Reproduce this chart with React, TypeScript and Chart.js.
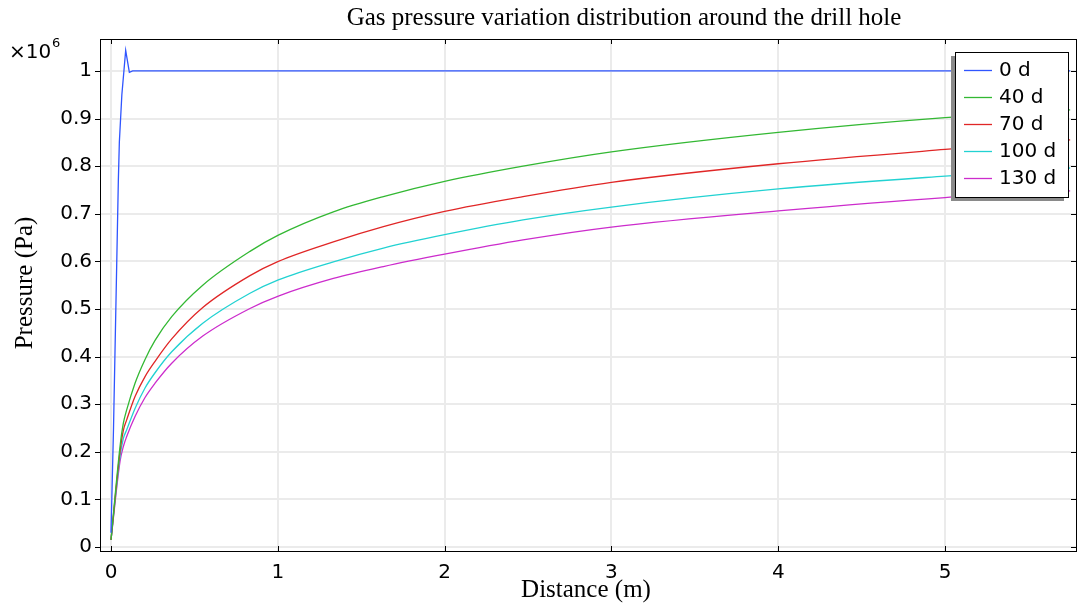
import React, { useEffect, useRef } from "react";
import { Chart, registerables } from "chart.js";
Chart.register(...registerables);

// Pressure values in units of 10^6 Pa
const title = "Gas pressure variation distribution around the drill hole";
const xTitle = "Distance (m)";
const yTitle = "Pressure (Pa)";
const seriesLabels = ["0 d", "40 d", "70 d", "100 d", "130 d"];
const seriesColors = ["#2f55ff", "#33b833", "#e02626", "#22d2d2", "#cc2ccc"];

const dist0 = [0, 0.015, 0.044, 0.05, 0.065, 0.088, 0.11, 0.13, 1, 2, 3, 4, 5, 5.75];
const p0 = [0.03, 0.25, 0.77, 0.85, 0.95, 1.043, 0.997, 1.0, 1.0, 1.0, 1.0, 1.0, 1.0, 1.0];

const distCurve = [0, 0.054, 0.074, 0.094, 0.144, 0.204, 0.264, 0.364, 0.55, 0.833, 1.003, 1.333, 1.633, 2.0, 2.47, 3.0, 4.0, 5.0, 5.75];
const p40 = [0.015, 0.211, 0.26, 0.288, 0.344, 0.394, 0.434, 0.484, 0.55, 0.621, 0.655, 0.704, 0.736, 0.768, 0.8, 0.83, 0.871, 0.902, 0.918];
const p70 = [0.015, 0.2, 0.245, 0.267, 0.316, 0.358, 0.39, 0.437, 0.503, 0.57, 0.6, 0.641, 0.673, 0.705, 0.736, 0.766, 0.805, 0.835, 0.855];
const p100 = [0.015, 0.19, 0.228, 0.246, 0.291, 0.334, 0.366, 0.41, 0.47, 0.533, 0.561, 0.599, 0.628, 0.656, 0.687, 0.714, 0.752, 0.779, 0.796];
const p130 = [0.015, 0.18, 0.211, 0.232, 0.274, 0.314, 0.344, 0.386, 0.443, 0.501, 0.527, 0.564, 0.589, 0.615, 0.645, 0.672, 0.706, 0.734, 0.748];

const xTicks = [0, 1, 2, 3, 4, 5];
const yTicks = [0, 0.1, 0.2, 0.3, 0.4, 0.5, 0.6, 0.7, 0.8, 0.9, 1];

const SANS = "'DejaVu Sans', sans-serif";
const SERIF = "'Liberation Serif', 'Times New Roman', serif";

const toPts = (xs: number[], ys: number[]) => xs.map((x, i) => ({ x, y: ys[i] }));

const decorPlugin = {
  id: "decor",
  afterDatasetsDraw(chart: any) {
    const { ctx, chartArea: a, scales } = chart;
    const xs = scales.x, ys = scales.y;
    ctx.save();
    // frame
    ctx.strokeStyle = "#000";
    ctx.lineWidth = 1;
    ctx.strokeRect(Math.round(a.left) + 0.5, Math.round(a.top) + 0.5, Math.round(a.right - a.left), Math.round(a.bottom - a.top));
    // ticks
    ctx.beginPath();
    xTicks.forEach((v) => {
      const px = Math.round(xs.getPixelForValue(v)) + 0.5;
      ctx.moveTo(px, a.bottom);
      ctx.lineTo(px, a.bottom - 5);
      ctx.moveTo(px, a.top);
      ctx.lineTo(px, a.top + 5);
    });
    yTicks.forEach((v) => {
      const py = Math.round(ys.getPixelForValue(v)) + 0.5;
      ctx.moveTo(a.left, py);
      ctx.lineTo(a.left - 5, py);
      ctx.moveTo(a.right, py);
      ctx.lineTo(a.right - 5, py);
    });
    ctx.stroke();

    // title
    ctx.fillStyle = "#000";
    ctx.font = `25px ${SERIF}`;
    ctx.textAlign = "center";
    ctx.textBaseline = "middle";
    ctx.fillText(title, 624, 18);
    // x title
    ctx.fillText(xTitle, 586, 590);
    // y title
    ctx.save();
    ctx.translate(25, 283);
    ctx.rotate(-Math.PI / 2);
    ctx.fillText(yTitle, 0, 0);
    ctx.restore();

    // exponent
    ctx.font = `20px ${SANS}`;
    ctx.textAlign = "left";
    ctx.textBaseline = "alphabetic";
    ctx.fillText("×10", 9, 58);
    ctx.font = `13px ${SANS}`;
    ctx.fillText("6", 52, 47);

    // legend
    const lx = 955, ly = 52, lw = 113, lh = 145;
    ctx.fillStyle = "#8a8a8a";
    ctx.fillRect(lx - 4, ly + 4, lw, lh);
    ctx.fillStyle = "#fff";
    ctx.fillRect(lx, ly, lw, lh);
    ctx.strokeStyle = "#000";
    ctx.strokeRect(lx + 0.5, ly + 0.5, lw, lh);
    ctx.font = `20px ${SANS}`;
    ctx.textBaseline = "middle";
    seriesLabels.forEach((lab, i) => {
      const y = 70 + i * 27;
      ctx.strokeStyle = seriesColors[i];
      ctx.lineWidth = 1.3;
      ctx.beginPath();
      ctx.moveTo(964, y + 0.5);
      ctx.lineTo(992, y + 0.5);
      ctx.stroke();
      ctx.fillStyle = "#000";
      ctx.fillText(lab, 999, y + 1);
    });
    ctx.restore();
  },
};

export default function App() {
  const ref = useRef<HTMLCanvasElement | null>(null);
  useEffect(() => {
    if (!ref.current) return;
    const seriesData = [toPts(dist0, p0), toPts(distCurve, p40), toPts(distCurve, p70), toPts(distCurve, p100), toPts(distCurve, p130)];
    const chart = new Chart(ref.current, {
      type: "line",
      data: {
        datasets: seriesData.map((d, i) => ({
          label: seriesLabels[i],
          data: d,
          borderColor: seriesColors[i],
          backgroundColor: seriesColors[i],
          borderWidth: 1.3,
          pointRadius: 0,
          fill: false,
          cubicInterpolationMode: i === 0 ? "default" : "monotone",
          tension: i === 0 ? 0 : 0.4,
        })),
      },
      options: {
        animation: false,
        responsive: false,
        maintainAspectRatio: false,
        layout: { padding: { top: 39, right: 2, left: 0, bottom: 0 } },
        plugins: { legend: { display: false }, title: { display: false }, tooltip: { enabled: false } },
        scales: {
          x: {
            type: "linear",
            min: -0.066,
            max: 5.785,
            afterBuildTicks: (s: any) => { s.ticks = xTicks.map((v) => ({ value: v })); },
            afterFit: (s: any) => { s.height = 53; },
            grid: { color: "#ebebeb", lineWidth: 2, drawTicks: false },
            border: { display: true, color: "#000", width: 1 },
            ticks: { color: "#000", font: { family: SANS, size: 20 }, padding: 10, maxRotation: 0, callback: (v: any) => String(v) },
          },
          y: {
            type: "linear",
            min: -0.0084,
            max: 1.067,
            afterBuildTicks: (s: any) => { s.ticks = yTicks.map((v) => ({ value: v })); },
            afterFit: (s: any) => { s.width = 100; },
            grid: { color: "#ebebeb", lineWidth: 2, drawTicks: false },
            border: { display: true, color: "#000", width: 1 },
            ticks: { color: "#000", font: { family: SANS, size: 20 }, padding: 8, callback: (v: any) => String(Math.round(v * 10) / 10) },
          },
        },
      } as any,
      plugins: [decorPlugin],
    });
    return () => chart.destroy();
  }, []);
  return (
    <div style={{ position: "fixed", left: 0, top: 0, width: 1078, height: 604, background: "#fff" }}>
      <canvas ref={ref} width={1078} height={604} style={{ width: 1078, height: 604, display: "block" }} />
    </div>
  );
}
